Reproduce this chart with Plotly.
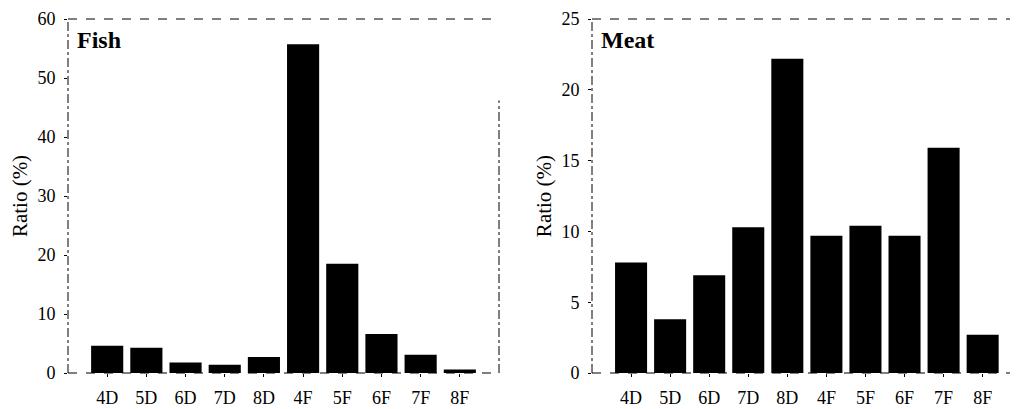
import plotly.graph_objects as go

categories = ["4D", "5D", "6D", "7D", "8D", "4F", "5F", "6F", "7F", "8F"]
fish_values = [4.6, 4.3, 1.8, 1.4, 2.7, 55.7, 18.5, 6.6, 3.1, 0.6]
meat_values = [7.8, 3.8, 6.9, 10.3, 22.2, 9.7, 10.4, 9.7, 15.9, 2.7]
fish_ticks = [0, 10, 20, 30, 40, 50, 60]
meat_ticks = [0, 5, 10, 15, 20, 25]

FONT = "Liberation Serif"
W, H = 1019, 409
OFF = 8  # page body margin offset

def px(x):
    return (x - OFF) / W

def py(y):
    return 1 - (y - OFF) / H

fig = go.Figure()
fig.add_trace(go.Bar(x=categories, y=fish_values, marker=dict(color="black", line=dict(width=0)),
                     xaxis="x", yaxis="y", showlegend=False))
fig.add_trace(go.Bar(x=categories, y=meat_values, marker=dict(color="black", line=dict(width=0)),
                     xaxis="x2", yaxis="y2", showlegend=False))

xcommon = dict(type="category", showgrid=False, zeroline=False, showline=False, automargin=False,
               ticks="outside", ticklen=3, tickcolor="black", tickwidth=1,
               tickfont=dict(family=FONT, size=18, color="black"), ticklabelstandoff=5)
ycommon = dict(showgrid=False, zeroline=False, showline=False, automargin=False,
               ticks="outside", ticklen=3, tickcolor="black", tickwidth=1,
               tickfont=dict(family=FONT, size=18, color="black"), ticklabelstandoff=5,
               title=dict(text="Ratio (%)", font=dict(family=FONT, size=21, color="black"), standoff=4))

fig.update_layout(
    width=W, height=H,
    margin=dict(l=0, r=0, t=0, b=0, autoexpand=False),
    paper_bgcolor="white", plot_bgcolor="white",
    bargap=0.18,
    xaxis=dict(domain=[px(68), px(499)], anchor="y", range=[-1, 10], **xcommon),
    yaxis=dict(domain=[py(373), py(19)], anchor="x", range=[0, 60], tickvals=fish_ticks, **ycommon),
    xaxis2=dict(domain=[px(592), px(1010)], anchor="y2", range=[-1, 9.7], **xcommon),
    yaxis2=dict(domain=[py(373), py(19)], anchor="x2", range=[0, 25], tickvals=meat_ticks, **ycommon),
)

shapes = []
for xa, ya, right in (("x", "y", True), ("x2", "y2", False)):
    xr, yr = xa + " domain", ya + " domain"
    shapes.append(dict(type="line", xref=xr, yref=yr, x0=0, x1=0, y0=0, y1=1,
                       line=dict(color="black", width=1, dash="dashdot")))
    shapes.append(dict(type="line", xref=xr, yref=yr, x0=0, x1=1, y0=1, y1=1,
                       line=dict(color="black", width=1, dash="dash")))
    shapes.append(dict(type="line", xref=xr, yref=yr, x0=0, x1=1, y0=0, y1=0,
                       line=dict(color="black", width=1, dash="dash")))
    if right:
        shapes.append(dict(type="line", xref=xr, yref=yr, x0=1, x1=1, y0=0, y1=0.77,
                           line=dict(color="black", width=1, dash="dashdot")))
fig.update_layout(shapes=shapes)

fig.add_annotation(text="<b>Fish</b>", xref="x domain", yref="y domain", x=0.016, y=0.983,
                   xanchor="left", yanchor="top", showarrow=False,
                   font=dict(family=FONT, size=24, color="black"))
fig.add_annotation(text="<b>Meat</b>", xref="x2 domain", yref="y2 domain", x=0.016, y=0.983,
                   xanchor="left", yanchor="top", showarrow=False,
                   font=dict(family=FONT, size=24, color="black"))

fig.write_html("out.html")
